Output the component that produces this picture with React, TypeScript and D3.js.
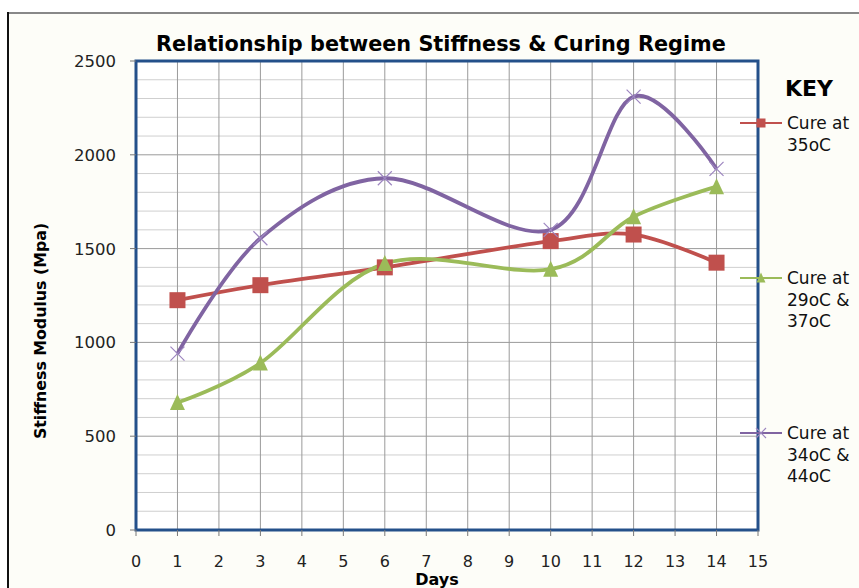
import React from 'react';
import * as d3 from 'd3';

// Data
const days = [1, 3, 6, 10, 12, 14];
const cure35 = [1225, 1305, 1400, 1540, 1575, 1425];
const cure29_37 = [680, 890, 1420, 1390, 1670, 1830];
const cure34_44 = [940, 1555, 1875, 1600, 2310, 1925];

const xTicks = d3.range(0, 16);
const yTicks = [0, 500, 1000, 1500, 2000, 2500];
const yMinor = d3.range(0, 2501, 100);

const seriesNames = [['Cure at', '35oC'], ['Cure at', '29oC &', '37oC'], ['Cure at', '34oC &', '44oC']];
const seriesColors = ['#c0504d', '#9bbb59', '#8064a2'];

const W = 859;
const H = 588;
const margin = { top: 61, left: 136 };

const App: React.FC = () => {
    const x = d3.scaleLinear().domain([0, 15]).range([margin.left, 758]);
    const y = d3.scaleLinear().domain([0, 2500]).range([530, margin.top]);

    const line = d3.line<[number, number]>()
        .x(d => x(d[0]))
        .y(d => y(d[1]))
        .curve(d3.curveCardinal.tension(0));

    const allSeries = [cure35, cure29_37, cure34_44];

    const marker = (i: number, cx: number, cy: number, s: number, key: string) => {
        const c = seriesColors[i];
        if (i === 0) {
            return <rect key={key} x={cx - s / 2} y={cy - s / 2} width={s} height={s} fill={c} />;
        }
        if (i === 1) {
            const h = s;
            return <path key={key} d={`M${cx},${cy - h / 2 - 1}L${cx + s / 2},${cy + h / 2}L${cx - s / 2},${cy + h / 2}Z`} fill={c} />;
        }
        const r = s / 2;
        return (
            <path key={key} d={`M${cx - r},${cy - r}L${cx + r},${cy + r}M${cx - r},${cy + r}L${cx + r},${cy - r}`}
                stroke="#9d86c0" strokeWidth={1.2} fill="none" />
        );
    };

    const legendY = [123, 278, 433];

    return (
        <svg width={W} height={H} style={{ position: 'absolute', left: 0, top: 0 }}
            fontFamily="'DejaVu Sans', Verdana, sans-serif">
            <rect x={0} y={0} width={W} height={H} fill="#ffffff" />
            <rect x={8} y={13} width={W} height={H} fill="#fdfdf8" />
            <line x1={8} y1={13} x2={W} y2={13} stroke="#888" strokeWidth={2} />
            <line x1={8} y1={12} x2={8} y2={H} stroke="#111" strokeWidth={2} />

            {/* plot area */}
            <rect x={x(0)} y={y(2500)} width={x(15) - x(0)} height={y(0) - y(2500)} fill="#ffffff" />

            {/* minor horizontal grid */}
            {yMinor.filter(v => v % 500 !== 0).map(v => (
                <line key={'m' + v} x1={x(0)} x2={x(15)} y1={y(v)} y2={y(v)} stroke="#cfcfcf" strokeWidth={1} />
            ))}
            {/* major horizontal grid */}
            {yTicks.map(v => (
                <line key={'g' + v} x1={x(0)} x2={x(15)} y1={y(v)} y2={y(v)} stroke="#9a9a9a" strokeWidth={1} />
            ))}
            {/* vertical grid */}
            {xTicks.map(v => (
                <line key={'v' + v} x1={x(v)} x2={x(v)} y1={y(2500)} y2={y(0)} stroke="#9a9a9a" strokeWidth={1} />
            ))}

            {/* plot border */}
            <rect x={x(0)} y={y(2500)} width={x(15) - x(0)} height={y(0) - y(2500)} fill="none" stroke="#24508a" strokeWidth={3} />

            {/* ticks */}
            {xTicks.map(v => (
                <line key={'xt' + v} x1={x(v)} x2={x(v)} y1={y(0)} y2={y(0) + 6} stroke="#777" strokeWidth={1} />
            ))}
            {yTicks.map(v => (
                <line key={'yt' + v} x1={x(0) - 6} x2={x(0)} y1={y(v)} y2={y(v)} stroke="#777" strokeWidth={1} />
            ))}

            {/* tick labels */}
            {yTicks.map(v => (
                <text key={'yl' + v} x={116} y={y(v)} dy="0.36em" textAnchor="end" fontSize={16.5} fill="#222">{v}</text>
            ))}
            {xTicks.map(v => (
                <text key={'xl' + v} x={x(v)} y={567} textAnchor="middle" fontSize={16} fill="#222">{v}</text>
            ))}

            {/* series */}
            {allSeries.map((vals, i) => (
                <path key={'s' + i} d={line(days.map((d, j) => [d, vals[j]] as [number, number])) || ''}
                    fill="none" stroke={seriesColors[i]} strokeWidth={3.8} />
            ))}
            {allSeries.map((vals, i) => days.map((d, j) => marker(i, x(d), y(vals[j]), i === 0 ? 16 : i === 1 ? 15 : 14, `mk${i}-${j}`)))}

            {/* titles */}
            <text x={441} y={51} textAnchor="middle" fontSize={20.8} fontWeight="bold" fill="#000">
                Relationship between Stiffness &amp; Curing Regime
            </text>
            <text x={437} y={585} textAnchor="middle" fontSize={16} fontWeight="bold" fill="#000">Days</text>
            <text transform={`translate(46,331) rotate(-90)`} textAnchor="middle" fontSize={15.8} fontWeight="bold" fill="#000">
                Stiffness Modulus (Mpa)
            </text>

            {/* legend */}
            <text x={785} y={96} fontSize={22} fontWeight="bold" fill="#000">KEY</text>
            {seriesNames.map((lines, i) => (
                <g key={'lg' + i}>
                    <line x1={740} x2={782} y1={legendY[i]} y2={legendY[i]} stroke={seriesColors[i]} strokeWidth={2} />
                    {marker(i, 761, legendY[i], i === 2 ? 10 : 9, 'lm' + i)}
                    {lines.map((t, k) => (
                        <text key={k} x={787} y={legendY[i] + 6 + k * 21.5} fontSize={17} fill="#111">{t}</text>
                    ))}
                </g>
            ))}
        </svg>
    );
};

export default App;
